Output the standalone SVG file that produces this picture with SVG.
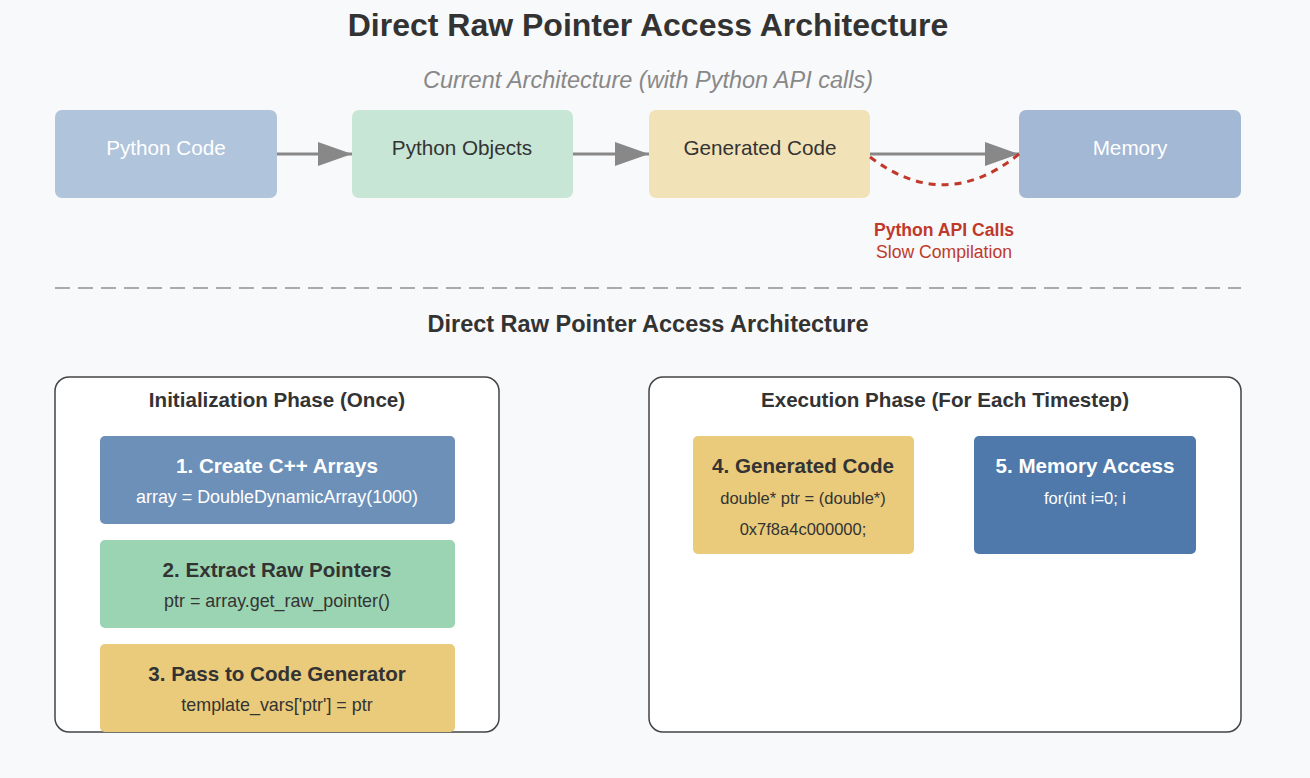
<svg xmlns="http://www.w3.org/2000/svg" width="1310" height="778" viewBox="0 0 1310 778">
<style>
text{font-family:"Liberation Sans",Arial,sans-serif;text-anchor:middle}
.title{font-size:32px;font-weight:bold;fill:#333}
.sub{font-size:23.5px;font-style:italic;fill:#888}
.top{font-size:20.7px}
.sec{font-size:23.5px;font-weight:bold;fill:#333}
.ph{font-size:20.6px;font-weight:bold;fill:#333}
.bt{font-size:20.6px;font-weight:bold}
.code{font-size:17.9px}
.code2{font-size:16.5px}
.red{font-size:17.6px;fill:#c0392b}
.w{fill:#fff}
.d{fill:#333}
.cont{fill:#fff;stroke:#444;stroke-width:1.5}
.arr{stroke:#888;stroke-width:3;fill:none}
</style>
<defs>
<marker id="ahb" markerWidth="34" markerHeight="24" refX="34" refY="12" orient="auto" markerUnits="userSpaceOnUse" viewBox="0 0 34 24">
<path d="M0,0 L34,12 L0,24 Z" fill="#888"/>
</marker>
</defs>
<rect width="1310" height="778" fill="#f8f9fa"/>
<text class="title" x="648" y="36">Direct Raw Pointer Access Architecture</text>
<text class="sub" x="648" y="88">Current Architecture (with Python API calls)</text>

<g id="python-code"><rect x="55" y="110" width="222" height="88" rx="7" fill="#b0c4dc"/><text class="top w" x="166" y="155">Python Code</text></g>
<g id="python-objects"><rect x="352" y="110" width="221" height="88" rx="7" fill="#c8e6d6"/><text class="top d" x="462" y="155">Python Objects</text></g>
<g id="generated-code-top"><rect x="649" y="110" width="221" height="88" rx="7" fill="#f2e2b8"/><text class="top d" x="760" y="155">Generated Code</text></g>
<g id="memory"><rect x="1019" y="110" width="222" height="88" rx="7" fill="#a3b8d4"/><text class="top w" x="1130" y="155">Memory</text></g>

<g id="connectors">
<line class="arr" x1="277" y1="154" x2="352" y2="154" marker-end="url(#ahb)"/>
<line class="arr" x1="573" y1="154" x2="649" y2="154" marker-end="url(#ahb)"/>
<line class="arr" x1="870" y1="154" x2="1019" y2="154" marker-end="url(#ahb)"/>
<path d="M870,157 Q945,214 1019,154" fill="none" stroke="#c0392b" stroke-width="3" stroke-dasharray="7,6"/>
</g>
<g id="api-label">
<text class="red" x="944" y="236" style="font-weight:bold">Python API Calls</text>
<text class="red" x="944" y="258">Slow Compilation</text>
</g>

<line x1="55" y1="288" x2="1241" y2="288" stroke="#aaa" stroke-width="2" stroke-dasharray="15,8"/>
<text class="sec" x="648" y="332">Direct Raw Pointer Access Architecture</text>

<g id="init-phase">
<rect class="cont" x="55" y="377" width="444" height="355" rx="14"/>
<text class="ph" x="277" y="407">Initialization Phase (Once)</text>
</g>
<g id="step1"><rect x="100" y="436" width="355" height="88" rx="5" fill="#6d90b9"/><text class="bt w" x="277" y="473">1. Create C++ Arrays</text><text class="code w" x="277" y="503">array = DoubleDynamicArray(1000)</text></g>
<g id="step2"><rect x="100" y="540" width="355" height="88" rx="5" fill="#9bd4b2"/><text class="bt d" x="277" y="577">2. Extract Raw Pointers</text><text class="code d" x="277" y="607">ptr = array.get_raw_pointer()</text></g>
<g id="step3"><rect x="100" y="644" width="355" height="88" rx="5" fill="#e9cb7b"/><text class="bt d" x="277" y="681">3. Pass to Code Generator</text><text class="code d" x="277" y="711">template_vars['ptr'] = ptr</text></g>

<g id="exec-phase">
<rect class="cont" x="649" y="377" width="592" height="355" rx="14"/>
<text class="ph" x="945" y="407">Execution Phase (For Each Timestep)</text>
</g>
<g id="step4"><rect x="693" y="436" width="221" height="118" rx="5" fill="#e9cb7b"/><text class="bt d" x="803" y="473">4. Generated Code</text><text class="code2 d" x="803" y="504">double* ptr = (double*)</text><text class="code2 d" x="803" y="535">0x7f8a4c000000;</text></g>
<g id="step5"><rect x="974" y="436" width="222" height="118" rx="5" fill="#4e79aa"/><text class="bt w" x="1085" y="473">5. Memory Access</text><text class="code2 w" x="1085" y="504">for(int i=0; i</text></g>
</svg>
